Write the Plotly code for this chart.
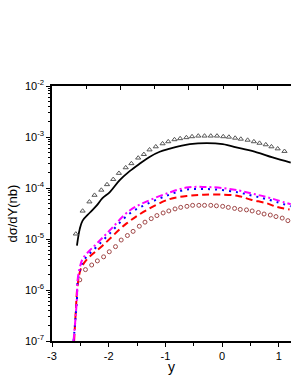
import plotly.graph_objects as go

# ---- data ----
tri_x = [-2.58, -2.46, -2.34, -2.25, -2.13, -2.03, -1.92, -1.82, -1.70, -1.60, -1.48, -1.38,
         -1.28, -1.17, -1.05, -0.95, -0.84, -0.74, -0.63, -0.53, -0.42, -0.31, -0.20, -0.09,
         0.02, 0.12, 0.23, 0.33, 0.45, 0.56, 0.66, 0.77, 0.87, 0.98, 1.10]
tri_v = [1.26e-5, 3.55e-5, 5.37e-5, 7.24e-5, 9.12e-5, 1.17e-4, 1.48e-4, 1.95e-4, 2.51e-4,
         3.02e-4, 3.89e-4, 4.57e-4, 5.62e-4, 6.46e-4, 7.41e-4, 8.13e-4, 8.91e-4, 9.33e-4,
         9.77e-4, 1.02e-3, 1.05e-3, 1.05e-3, 1.05e-3, 1.05e-3, 1.02e-3, 1.00e-3, 9.55e-4,
         9.12e-4, 8.71e-4, 8.13e-4, 7.59e-4, 7.08e-4, 6.46e-4, 5.89e-4, 5.25e-4]

black_x = [-2.56, -2.51, -2.46, -2.33, -2.21, -2.11, -1.98, -1.81, -1.63, -1.45, -1.28, -1.10,
           -0.92, -0.75, -0.57, -0.27, 0.01, 0.31, 0.61, 0.89, 1.21]
black_v = [7.41e-6, 1.58e-5, 2.29e-5, 3.31e-5, 4.57e-5, 6.31e-5, 8.32e-5, 1.41e-4, 2.14e-4,
           3.02e-4, 4.07e-4, 5.13e-4, 5.89e-4, 6.61e-4, 7.24e-4, 7.59e-4, 7.24e-4, 6.03e-4,
           5.01e-4, 3.98e-4, 3.16e-4]

mag_x = [-2.62, -2.59, -2.56, -2.55, -2.51, -2.46, -2.34, -2.21, -1.98, -1.63, -1.28, -0.93,
         -0.63, -0.32, 0.0, 0.30, 0.53, 0.79, 1.21]
mag_v = [1.0e-7, 2.45e-7, 7.08e-7, 1.51e-6, 2.75e-6, 4.07e-6, 5.89e-6, 8.13e-6, 1.48e-5,
         3.63e-5, 5.75e-5, 8.13e-5, 1.02e-4, 1.05e-4, 1.0e-4, 8.91e-5, 7.76e-5, 6.61e-5, 4.79e-5]

blue_x = [-2.62, -2.59, -2.56, -2.55, -2.51, -2.46, -2.34, -2.21, -1.98, -1.63, -1.28, -0.93,
          -0.63, -0.32, 0.0, 0.30, 0.53, 0.79, 1.21]
blue_v = [1.0e-7, 2.4e-7, 6.61e-7, 1.38e-6, 2.45e-6, 3.55e-6, 5.13e-6, 7.08e-6, 1.29e-5,
          3.16e-5, 5.13e-5, 7.41e-5, 9.33e-5, 9.55e-5, 9.12e-5, 8.13e-5, 7.08e-5, 6.03e-5, 4.37e-5]

red_x = [-2.61, -2.58, -2.55, -2.49, -2.40, -2.29, -2.11, -1.69, -1.34, -0.93, -0.58, -0.32,
         0.03, 0.30, 0.51, 0.79, 0.96, 1.19]
red_v = [1.0e-7, 3.89e-7, 1.20e-6, 2.63e-6, 3.80e-6, 5.01e-6, 7.41e-6, 2.0e-5, 3.63e-5,
         6.03e-5, 7.08e-5, 7.41e-5, 7.41e-5, 6.92e-5, 5.89e-5, 5.01e-5, 4.27e-5, 3.80e-5]

circ_x = [-2.51, -2.41, -2.30, -2.20, -2.09, -1.99, -1.88, -1.78, -1.67, -1.57, -1.46, -1.36,
          -1.25, -1.15, -1.04, -0.94, -0.83, -0.73, -0.62, -0.52, -0.41, -0.31, -0.20, -0.10,
          0.01, 0.11, 0.22, 0.32, 0.43, 0.53, 0.64, 0.74, 0.85, 0.95, 1.06, 1.16]
circ_v = [1.58e-6, 2.51e-6, 3.09e-6, 3.72e-6, 4.47e-6, 5.62e-6, 7.08e-6, 9.55e-6, 1.17e-5,
          1.41e-5, 1.78e-5, 2.14e-5, 2.51e-5, 2.88e-5, 3.24e-5, 3.55e-5, 3.89e-5, 4.17e-5,
          4.37e-5, 4.57e-5, 4.57e-5, 4.57e-5, 4.57e-5, 4.47e-5, 4.37e-5, 4.17e-5, 3.98e-5,
          3.80e-5, 3.72e-5, 3.55e-5, 3.31e-5, 3.09e-5, 2.95e-5, 2.75e-5, 2.57e-5, 2.29e-5]

x_ticks = [-3, -2, -1, 0, 1]
x_ticktext = ["-3", "-2", "-1", "0", "1"]
y_ticks = [1e-7, 1e-6, 1e-5, 1e-4, 1e-3, 1e-2]
y_ticktext = ["10<sup>-7</sup>", "10<sup>-6</sup>", "10<sup>-5</sup>",
              "10<sup>-4</sup>", "10<sup>-3</sup>", "10<sup>-2</sup>"]

FONT = "Liberation Sans, Arial, sans-serif"

fig = go.Figure()
fig.add_trace(go.Scatter(x=circ_x, y=circ_v, mode="markers",
                         marker=dict(symbol="circle-open", size=4, color="#a04848",
                                     line=dict(width=1, color="#a04848"))))
fig.add_trace(go.Scatter(x=red_x, y=red_v, mode="lines", line_shape="spline",
                         line=dict(color="#ff0000", width=2, dash="7px,4px")))
fig.add_trace(go.Scatter(x=blue_x, y=blue_v, mode="lines", line_shape="spline",
                         line=dict(color="#0000ff", width=2, dash="2px,5px")))
fig.add_trace(go.Scatter(x=mag_x, y=mag_v, mode="lines", line_shape="spline",
                         line=dict(color="#ff00ff", width=2, dash="7px,3px,2px,3px")))
fig.add_trace(go.Scatter(x=black_x, y=black_v, mode="lines", line_shape="spline",
                         line=dict(color="#000000", width=1.8)))
fig.add_trace(go.Scatter(x=tri_x, y=tri_v, mode="markers",
                         marker=dict(symbol="triangle-up-open", size=4.5, color="#555555",
                                     line=dict(width=1, color="#555555"))))
# invisible trace to anchor the top axis
fig.add_trace(go.Scatter(x=[0], y=[1e-3], xaxis="x2", mode="markers",
                         marker=dict(opacity=0), hoverinfo="skip"))

minor_y = [m * 10.0 ** e for e in range(-7, -2) for m in range(2, 10)]

fig.update_layout(
    template="none",
    width=291, height=376,
    margin=dict(l=52, r=0, t=86, b=35),
    paper_bgcolor="white", plot_bgcolor="white",
    showlegend=False,
    font=dict(family=FONT, size=11, color="black"),
    xaxis=dict(range=[-3, 1.215], tickvals=x_ticks, ticktext=x_ticktext,
               ticks="outside", ticklen=4, tickwidth=1, tickcolor="black",
               minor=dict(ticks="outside", ticklen=3, dtick=0.5, tick0=-3, tickcolor="black"),
               showline=True, linecolor="black", linewidth=1.5,
               showgrid=False, zeroline=False, tickfont=dict(size=11, color="black")),
    xaxis2=dict(overlaying="x", side="top", range=[0, 3.49], dtick=1, tick0=0,
                ticks="inside", ticklen=4, tickcolor="black",
                minor=dict(ticks="inside", ticklen=3, dtick=0.5, tick0=0.5, tickcolor="black"),
                showticklabels=False, showline=True, linecolor="black", linewidth=1.5,
                showgrid=False, zeroline=False),
    yaxis=dict(type="log", range=[-7, -2], tickvals=y_ticks, ticktext=y_ticktext,
               ticks="outside", ticklen=4, tickcolor="black",
               minor=dict(ticks="outside", ticklen=2, tickvals=minor_y, tickcolor="black"),
               showline=True, linecolor="black", linewidth=1.5,
               showgrid=False, zeroline=False, tickfont=dict(size=11, color="black")),
    annotations=[
        dict(text="dσ/dY(nb)", textangle=-90, xref="paper", yref="paper",
             x=-0.167, y=0.5, xanchor="center", yanchor="middle", showarrow=False,
             font=dict(size=13, family=FONT, color="black")),
        dict(text="y", xref="paper", yref="paper", x=0.5, y=-0.1, xanchor="center",
             yanchor="middle", showarrow=False, font=dict(size=14, family=FONT, color="black")),
    ],
)

fig.write_html("out.html", config={"displayModeBar": False},
               post_script="document.body.style.margin='0';")
